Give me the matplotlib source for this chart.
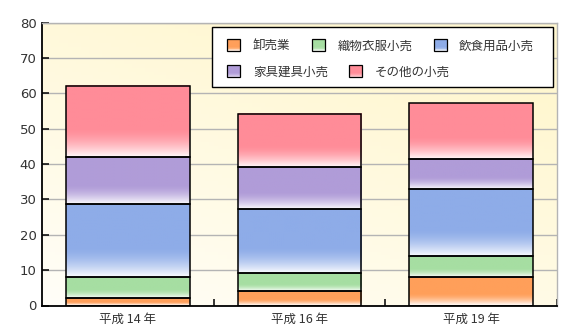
import numpy as np
import matplotlib
matplotlib.use("Agg")
import matplotlib.pyplot as plt
from matplotlib.colors import to_rgb
from matplotlib.patches import Patch, Rectangle
from matplotlib.legend_handler import HandlerBase

plt.rcParams["font.family"] = ["Noto Sans CJK JP", "DejaVu Sans"]

# data
years = ["平成 14 年", "平成 16 年", "平成 19 年"]
categories = ["卸売業", "織物衣服小売", "飲食用品小売", "家具建具小売", "その他の小売"]
wholesale = [2.0, 4.2, 8.0]
textile = [6.0, 5.0, 6.0]
food = [20.8, 18.2, 18.9]
furniture = [13.3, 11.9, 8.5]
other = [20.1, 15.0, 15.8]
series = [wholesale, textile, food, furniture, other]
colors = ["#FF9F5A", "#A6DEA2", "#8EACE8", "#B09CD8", "#FF8C98"]
yticks = [0, 10, 20, 30, 40, 50, 60, 70, 80]

TEXT = "#333333"


def fade(color, t):
    # t: 0 at bottom of a segment, 1 at top; bottom part washes out to white
    c = np.array(to_rgb(color))
    s = np.clip(t / 0.4, 0, 1)
    w = 0.93 * (1 - s) ** 1.6
    return c * (1 - w) + w


def gradient_img(color, n=64):
    ts = np.linspace(0, 1, n)
    return np.array([fade(color, t) for t in ts])[:, None, :]


class GradientHandler(HandlerBase):
    def create_artists(self, legend, orig_handle, xdescent, ydescent,
                       width, height, fontsize, trans):
        base = orig_handle.get_facecolor()
        arts = []
        n = 14
        for i in range(n):
            c = fade(base, (i + 0.5) / n)
            arts.append(Rectangle((-xdescent, -ydescent + height * i / n),
                                  width, height / n * 1.05, facecolor=c,
                                  edgecolor="none", transform=trans))
        arts.append(Rectangle((-xdescent, -ydescent), width, height,
                              facecolor="none", edgecolor="black", lw=0.9,
                              transform=trans))
        return arts


fig = plt.figure(figsize=(5.73, 3.36), dpi=100)
ax = fig.add_axes([42 / 573, 1 - 305.5 / 336, 515 / 573, 282.8 / 336])

# plot background: near white bottom-left to pale yellow top-right
gx, gy = np.meshgrid(np.linspace(0, 1, 120), np.linspace(0, 1, 80))
u = np.clip(0.45 * gx + 0.75 * gy, 0, 1)[..., None]
c0 = np.array(to_rgb("#FFFEF8"))
c1 = np.array(to_rgb("#FFF7D0"))
bg = c0 * (1 - u) + c1 * u
ax.imshow(bg, extent=(0, 1, 0, 1), transform=ax.transAxes, origin="lower",
          aspect="auto", zorder=0)

x = np.arange(len(years))
bottom = np.zeros(len(years))
width = 0.72
for vals, col in zip(series, colors):
    bars = ax.bar(x, vals, width, bottom=bottom, facecolor="none",
                  edgecolor="black", linewidth=1.1, zorder=3)
    for b in bars:
        x0, y0 = b.get_x(), b.get_y()
        ax.imshow(gradient_img(col), extent=(x0, x0 + b.get_width(), y0, y0 + b.get_height()),
                  origin="lower", aspect="auto", zorder=2, interpolation="bilinear")
    bottom += np.array(vals)

ax.set_xlim(-0.5, len(years) - 0.5)
ax.set_ylim(0, 80)
ax.set_yticks(yticks)
ax.set_xticks(x)
ax.set_xticklabels(years, fontsize=9, color=TEXT)
ax.set_xticks(np.arange(len(years)) + 0.5, minor=True)
ax.tick_params(axis="x", which="major", length=0, pad=5)
ax.tick_params(axis="x", which="minor", direction="in", length=5, width=1.1, color="black")
ax.tick_params(axis="y", direction="in", length=5, width=1.1, pad=4,
               labelsize=9.5, labelcolor=TEXT)
for lab in ax.get_yticklabels():
    lab.set_family("DejaVu Sans")

ax.set_axisbelow(True)
ax.grid(axis="y", color="#B4B4B4", lw=1.0, zorder=1)
for side in ("left", "bottom"):
    ax.spines[side].set_color("black")
    ax.spines[side].set_linewidth(1.3)
for side in ("right", "top"):
    ax.spines[side].set_color("#B4B4B4")
    ax.spines[side].set_linewidth(1.0)

# legend: framed box with two flowed rows
ax.add_patch(Rectangle((212 / 573, 1 - 86.7 / 336), 341 / 573, 60 / 336,
                       transform=fig.transFigure, facecolor="white",
                       edgecolor="black", lw=1.0, zorder=4, clip_on=False))
handles = [Patch(facecolor=c) for c in colors]
common = dict(frameon=False, borderpad=0, handlelength=1.05, handleheight=1.1,
              handletextpad=1.0, columnspacing=1.7, fontsize=9,
              labelcolor=TEXT, loc="center left", bbox_transform=fig.transFigure,
              handler_map={Patch: GradientHandler()})
leg1 = ax.legend(handles[:3], categories[:3], ncol=3,
                 bbox_to_anchor=(221 / 573, 1 - 45.7 / 336), **common)
leg1.set_zorder(5)
ax.add_artist(leg1)
leg2 = ax.legend(handles[3:], categories[3:], ncol=2,
                 bbox_to_anchor=(221 / 573, 1 - 72 / 336), **common)
leg2.set_zorder(5)

fig.savefig("out.png", dpi=100)
